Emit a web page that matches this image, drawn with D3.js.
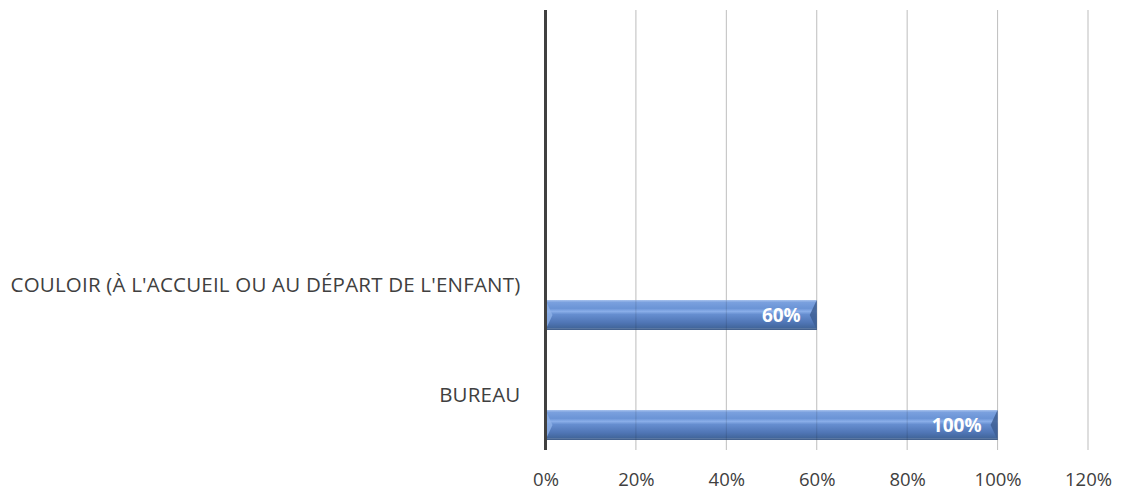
<!DOCTYPE html>
<html>
<head>
<meta charset="utf-8">
<script src="https://cdn.jsdelivr.net/npm/d3@7"></script>
<style>
  body { margin: 0; background: #fff; }
  svg text { font-family: "Open Sans", sans-serif; }
</style>
</head>
<body>
<div id="chart"></div>
<script>
// categories from bottom to top (two empty ones at the top)
var categories = ['BUREAU', "COULOIR (À L'ACCUEIL OU AU DÉPART DE L'ENFANT)", '', ''];
// three series in the workbook, only the last one holds values
var seriesNames = ['s1', 's2', 's3'];
var values = [1.0, 0.6, null, null];
var tickValues = [0, 0.2, 0.4, 0.6, 0.8, 1.0, 1.2];

var width = 1121, height = 498;
var margin = {top: 10, right: 33, bottom: 48, left: 545.5};
var innerW = width - margin.left - margin.right;
var innerH = height - margin.top - margin.bottom;

var svg = d3.select('#chart').append('svg')
  .attr('width', width)
  .attr('height', height);

var g = svg.append('g')
  .attr('transform', 'translate(' + margin.left + ',' + margin.top + ')');

// Set the ranges
var x = d3.scaleLinear().domain([0, 1.2]).range([0, innerW]);
var y = d3.scaleBand()
  .domain(categories.map(function(d, i) { return i; }))
  .range([innerH, 0])
  .padding(0);
var ySub = d3.scaleBand()
  .domain(seriesNames)
  .range([0, y.bandwidth()])
  .paddingInner(0)
  .paddingOuter(1 / 3);

// gradient for the bevelled bars
var defs = svg.append('defs');
var grad = defs.append('linearGradient')
  .attr('id', 'barGrad')
  .attr('x1', 0).attr('y1', 0).attr('x2', 0).attr('y2', 1);
[
  ['0%', '#a8c3ee'],
  ['8%', '#7aa0de'],
  ['28%', '#6b94d6'],
  ['38%', '#8aaee9'],
  ['48%', '#668ed0'],
  ['75%', '#5076b6'],
  ['92%', '#43679d'],
  ['100%', '#7c8fa8']
].forEach(function(s) {
  grad.append('stop').attr('offset', s[0]).attr('stop-color', s[1]);
});

// Add the grid lines
g.append('g')
  .attr('class', 'grid')
  .selectAll('line')
  .data(tickValues.slice(1))
  .enter().append('line')
    .attr('x1', function(d) { return x(d); })
    .attr('x2', function(d) { return x(d); })
    .attr('y1', 0)
    .attr('y2', innerH)
    .attr('stroke', '#d9d9d9')
    .attr('stroke-width', 1);

// Add the bars
var barData = values.map(function(v, i) { return {cat: i, value: v}; })
  .filter(function(d) { return d.value != null; });

var bars = g.selectAll('.bar')
  .data(barData)
  .enter().append('g')
    .attr('class', 'bar')
    .attr('transform', function(d) {
      return 'translate(0,' + (y(d.cat) + ySub('s3')) + ')';
    });

var bh = ySub.bandwidth();
var bev = 7;

bars.append('rect')
  .attr('x', 0)
  .attr('y', 0)
  .attr('width', function(d) { return x(d.value); })
  .attr('height', bh)
  .attr('fill', 'url(#barGrad)');

// left bevel (light)
bars.append('path')
  .attr('d', function(d) {
    return 'M0,0 L' + bev + ',' + (bh / 2) + ' L0,' + bh + 'Z';
  })
  .attr('fill', '#8fb2e8')
  .attr('opacity', 0.8);

// right bevel (dark)
bars.append('path')
  .attr('d', function(d) {
    var w = x(d.value);
    return 'M' + w + ',0 L' + (w - bev) + ',' + (bh / 2) + ' L' + w + ',' + bh + 'Z';
  })
  .attr('fill', '#3e5f94')
  .attr('opacity', 0.85);

// bottom shade line
bars.append('line')
  .attr('x1', 0)
  .attr('x2', function(d) { return x(d.value); })
  .attr('y1', bh - 0.5)
  .attr('y2', bh - 0.5)
  .attr('stroke', '#44618d')
  .attr('stroke-width', 1);

// gridlines show faintly through the bars
g.append('g')
  .selectAll('line')
  .data(tickValues.slice(1))
  .enter().append('line')
    .attr('x1', function(d) { return x(d); })
    .attr('x2', function(d) { return x(d); })
    .attr('y1', 0)
    .attr('y2', innerH)
    .attr('stroke', '#000')
    .attr('stroke-opacity', 0.12);

// data labels
bars.append('text')
  .attr('x', function(d) { return x(d.value) - 16; })
  .attr('y', bh / 2)
  .attr('dy', '0.36em')
  .attr('text-anchor', 'end')
  .attr('fill', '#fff')
  .attr('font-weight', 'bold')
  .attr('font-size', 19)
  .text(function(d) { return Math.round(d.value * 100) + '%'; });

// Add the X Axis labels
var xAxis = d3.axisBottom(x)
  .tickValues(tickValues)
  .tickSize(0)
  .tickPadding(23)
  .tickFormat(d3.format('.0%'));

var xg = g.append('g')
  .attr('transform', 'translate(0,' + innerH + ')')
  .call(xAxis);
xg.select('.domain').remove();
xg.selectAll('text')
  .attr('font-size', 18.5)
  .attr('fill', '#404040')
  .style('font-family', '"Open Sans", sans-serif');

// Category labels
g.selectAll('.cat')
  .data(categories)
  .enter().append('text')
    .attr('class', 'cat')
    .attr('x', -25)
    .attr('y', function(d, i) { return y(i) + y.bandwidth() / 2; })
    .attr('dy', '0.36em')
    .attr('text-anchor', 'end')
    .attr('font-size', 20.5)
    .attr('letter-spacing', 0.2)
    .attr('fill', '#404040')
    .text(function(d) { return d; });

// Add the Y Axis line
g.append('line')
  .attr('x1', 0).attr('x2', 0)
  .attr('y1', 0).attr('y2', innerH)
  .attr('stroke', '#404040')
  .attr('stroke-width', 3);
</script>
</body>
</html>
